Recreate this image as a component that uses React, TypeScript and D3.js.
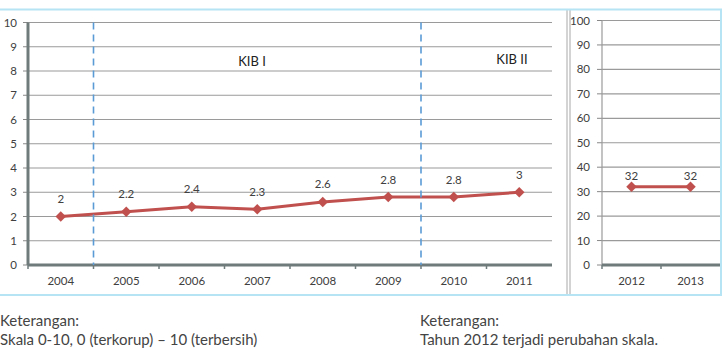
import React, { useRef, useEffect } from 'react';
import * as d3 from 'd3';

// Indeks Persepsi Korupsi, skala lama (0-10) dan skala baru (0-100)
const oldYears = ['2004', '2005', '2006', '2007', '2008', '2009', '2010', '2011'];
const oldScores = [2, 2.2, 2.4, 2.3, 2.6, 2.8, 2.8, 3];
const oldTicks = [0, 1, 2, 3, 4, 5, 6, 7, 8, 9, 10];

const newYears = ['2012', '2013'];
const newScores = [32, 32];
const newTicks = [0, 10, 20, 30, 40, 50, 60, 70, 80, 90, 100];

// batas periode kabinet
const periods = [
  { name: 'KIB I', from: '2004', to: '2005' },
  { name: 'KIB II', from: '2009', to: '2010' },
];

const notesLeft = ['Keterangan:', 'Skala 0-10, 0 (terkorup) – 10 (terbersih)'];
const notesRight = ['Keterangan:', 'Tahun 2012 terjadi perubahan skala.'];

const FONT = 'Lato, "Open Sans", sans-serif';
const RED = '#c0504d';
const TEXT = '#404040';

const App = () => {
  const svgRef = useRef<SVGSVGElement>(null);

  useEffect(() => {
    const svg = d3.select(svgRef.current);
    svg.selectAll('*').remove();

    const top = 22.5;
    const bottom = 265;

    const drawPanel = (
      years: string[],
      scores: number[],
      ticks: number[],
      left: number,
      right: number,
      yTop: number,
      tickLabelX: number,
      labelOffset: number,
      thickY: boolean,
    ) => {
      const x = d3.scaleBand().domain(years).range([left, right]);
      const y = d3.scaleLinear().domain([0, ticks[ticks.length - 1]]).range([bottom, yTop]);
      const g = svg.append('g');

      // gridlines
      g.selectAll('.grid')
        .data(ticks.slice(1))
        .enter()
        .append('line')
        .attr('x1', left)
        .attr('x2', right)
        .attr('y1', d => y(d))
        .attr('y2', d => y(d))
        .attr('stroke', '#9a9a9a')
        .attr('stroke-width', 1.2);

      // y tick marks + labels
      g.selectAll('.ytick')
        .data(ticks)
        .enter()
        .append('line')
        .attr('x1', left - 5)
        .attr('x2', left)
        .attr('y1', d => y(d))
        .attr('y2', d => y(d))
        .attr('stroke', '#888');
      g.selectAll('.ylab')
        .data(ticks)
        .enter()
        .append('text')
        .attr('x', tickLabelX)
        .attr('y', d => y(d))
        .attr('dy', '0.35em')
        .attr('text-anchor', 'end')
        .attr('font-family', FONT)
        .attr('font-size', 11.5)
        .attr('fill', TEXT)
        .text(d => d);

      // y axis line
      g.append('line')
        .attr('x1', left)
        .attr('x2', left)
        .attr('y1', y(ticks[ticks.length - 1]))
        .attr('y2', bottom)
        .attr('stroke', thickY ? '#6f7b7b' : '#9a9a9a')
        .attr('stroke-width', thickY ? 3 : 1.2);

      // x axis line and ticks
      g.append('line')
        .attr('x1', left)
        .attr('x2', right)
        .attr('y1', bottom)
        .attr('y2', bottom)
        .attr('stroke', '#6f7b7b')
        .attr('stroke-width', 3);
      g.selectAll('.xtick')
        .data(years)
        .enter()
        .append('line')
        .attr('x1', d => x(d)!)
        .attr('x2', d => x(d)!)
        .attr('y1', bottom)
        .attr('y2', bottom + 4)
        .attr('stroke', '#6f7b7b')
        .attr('stroke-width', 1.5);
      g.selectAll('.xlab')
        .data(years)
        .enter()
        .append('text')
        .attr('x', d => x(d)! + x.bandwidth() / 2)
        .attr('y', 281)
        .attr('dy', '0.35em')
        .attr('text-anchor', 'middle')
        .attr('font-family', FONT)
        .attr('font-size', 11.5)
        .attr('fill', TEXT)
        .text(d => d);

      const cx = (i: number) => x(years[i])! + x.bandwidth() / 2;

      // series line
      const line = d3
        .line<number>()
        .x((_, i) => cx(i))
        .y(d => y(d));
      g.append('path')
        .datum(scores)
        .attr('d', line)
        .attr('fill', 'none')
        .attr('stroke', RED)
        .attr('stroke-width', 3);

      // diamond markers
      g.selectAll('.pt')
        .data(scores)
        .enter()
        .append('path')
        .attr('d', d3.symbol(d3.symbolDiamond2, 70)())
        .attr('transform', (d, i) => `translate(${cx(i)},${y(d)})`)
        .attr('fill', RED);

      // value labels
      g.selectAll('.val')
        .data(scores)
        .enter()
        .append('text')
        .attr('x', (_, i) => cx(i))
        .attr('y', d => y(d) - labelOffset)
        .attr('dy', '0.35em')
        .attr('text-anchor', 'middle')
        .attr('font-family', FONT)
        .attr('font-size', 11.5)
        .attr('fill', TEXT)
        .text(d => d);

      return { x, y };
    };

    const leftPanel = drawPanel(oldYears, oldScores, oldTicks, 28, 552, top, 17, 17.5, true);
    drawPanel(newYears, newScores, newTicks, 602, 720, 20.5, 590, 11, false);

    // dashed period separators
    const lx = leftPanel.x;
    periods.forEach(p => {
      const xs = (lx(p.from)! + lx.bandwidth() + lx(p.to)!) / 2;
      svg.append('line')
        .attr('x1', xs)
        .attr('x2', xs)
        .attr('y1', top)
        .attr('y2', bottom)
        .attr('stroke', '#5b9bd5')
        .attr('stroke-width', 1.6)
        .attr('stroke-dasharray', '7,5');
    });

    // period labels
    [
      { text: periods[0].name, x: 252, y: 61 },
      { text: periods[1].name, x: 512, y: 59 },
    ].forEach(l => {
      svg.append('text')
        .attr('x', l.x)
        .attr('y', l.y)
        .attr('dy', '0.35em')
        .attr('text-anchor', 'middle')
        .attr('font-family', FONT)
        .attr('font-size', 13)
        .attr('fill', '#222')
        .text(l.text);
    });

    // double separator between the two panels
    [567, 570].forEach(sx => {
      svg.append('line')
        .attr('x1', sx)
        .attr('x2', sx)
        .attr('y1', 9)
        .attr('y2', 295)
        .attr('stroke', '#a8a8a8')
        .attr('stroke-width', 1);
    });

    // frame
    svg.append('path')
      .attr('d', 'M0,9.5 H721 V295 H0')
      .attr('fill', 'none')
      .attr('stroke', '#b7e4f4')
      .attr('stroke-width', 2);

    // notes under the chart
    const notes = (lines: string[], nx: number) => {
      lines.forEach((t, i) => {
        svg.append('text')
          .attr('x', nx)
          .attr('y', 321 + i * 19)
          .attr('dy', '0.35em')
          .attr('font-family', FONT)
          .attr('font-size', 15)
          .attr('fill', '#444')
          .text(t);
      });
    };
    notes(notesLeft, 0);
    notes(notesRight, 420);
  }, []);

  return (
    <svg
      ref={svgRef}
      width={723}
      height={348}
      style={{ position: 'absolute', left: 0, top: 0, background: '#fff' }}
    />
  );
};

export default App;
